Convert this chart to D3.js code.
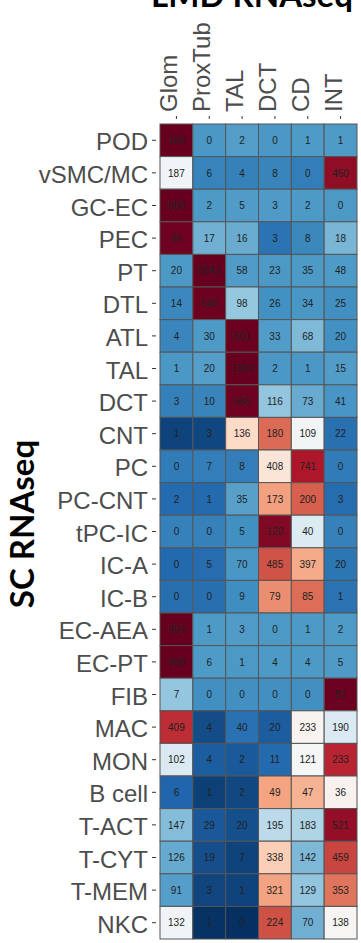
<!DOCTYPE html>
<html>
<head>
<meta charset="utf-8">
<script src="https://cdn.jsdelivr.net/npm/d3@7/dist/d3.min.js"></script>
<style>
  html, body { margin: 0; padding: 0; background: #ffffff; }
  svg { display: block; }
</style>
</head>
<body>
<svg id="chart" width="361" height="943"></svg>
<script>
// LMD compartments (columns) and single-cell clusters (rows)
const columns = ["Glom", "ProxTub", "TAL", "DCT", "CD", "INT"];
const rows = ["POD", "vSMC/MC", "GC-EC", "PEC", "PT", "DTL", "ATL", "TAL", "DCT", "CNT",
  "PC", "PC-CNT", "tPC-IC", "IC-A", "IC-B", "EC-AEA", "EC-PT", "FIB", "MAC", "MON",
  "B cell", "T-ACT", "T-CYT", "T-MEM", "NKC"];

// counts per LMD compartment, one entry per cluster (same order as rows)
const glom    = [166, 187, 888, 96, 20, 14, 4, 1, 3, 1, 0, 2, 0, 0, 0, 454, 968, 7, 409, 102, 6, 147, 126, 91, 132];
const proxTub = [0, 6, 2, 17, 6543, 546, 30, 20, 10, 3, 7, 1, 0, 5, 0, 1, 6, 0, 4, 4, 1, 29, 19, 3, 1];
const tal     = [2, 4, 5, 16, 58, 98, 501, 1304, 658, 136, 8, 35, 5, 70, 9, 3, 1, 0, 40, 2, 2, 20, 7, 1, 0];
const dct     = [0, 8, 3, 3, 23, 26, 33, 2, 116, 180, 408, 173, 120, 485, 79, 0, 4, 0, 20, 11, 49, 195, 338, 321, 224];
const cd      = [1, 0, 2, 8, 35, 34, 68, 1, 73, 109, 741, 200, 40, 397, 85, 1, 4, 0, 233, 121, 47, 183, 142, 129, 70];
const int     = [1, 450, 0, 18, 48, 25, 20, 15, 41, 22, 0, 3, 0, 20, 1, 2, 5, 51, 190, 233, 36, 521, 459, 353, 138];

const xTitle = "LMD RNAseq";
const yTitle = "SC RNAseq";

const seriesByColumn = [glom, proxTub, tal, dct, cd, int];

// long-format cells with a row-wise z-score used for the fill
const cells = [];
rows.forEach((r, i) => {
  const vals = seriesByColumn.map(s => s[i]);
  const m = d3.mean(vals);
  const sd = d3.deviation(vals) || 1;
  vals.forEach((v, j) => cells.push({ row: r, col: columns[j], value: v, z: (v - m) / sd }));
});

const svg = d3.select("#chart");

const x = d3.scaleBand().domain(columns).range([160, 357]).padding(0);
const y = d3.scaleBand().domain(rows).range([124, 939]).padding(0);

// diverging blue-white-red ramp stretched over the full z range
const rdbu = ["#053061", "#2166ac", "#4393c3", "#92c5de", "#d1e5f0", "#f7f7f7",
              "#fddbc7", "#f4a582", "#d6604d", "#b2182b", "#67001f"];
const zExt = d3.extent(cells, d => d.z);
const stops = d3.range(rdbu.length).map(k => zExt[0] + (zExt[1] - zExt[0]) * k / (rdbu.length - 1));
const color = d3.scaleLinear().domain(stops).range(rdbu).interpolate(d3.interpolateRgb).clamp(true);

// tiles
svg.append("g")
  .selectAll("rect")
  .data(cells)
  .join("rect")
  .attr("x", d => x(d.col))
  .attr("y", d => y(d.row))
  .attr("width", x.bandwidth())
  .attr("height", y.bandwidth())
  .attr("fill", d => color(d.z))
  .attr("stroke", "#555555")
  .attr("stroke-width", 1);

// count labels
svg.append("g")
  .selectAll("text")
  .data(cells)
  .join("text")
  .attr("x", d => x(d.col) + x.bandwidth() / 2)
  .attr("y", d => y(d.row) + y.bandwidth() / 2)
  .attr("dy", "0.36em")
  .attr("text-anchor", "middle")
  .style("font-family", "'Liberation Sans', Arial, sans-serif")
  .style("font-size", "10px")
  .style("fill", "#222222")
  .text(d => d.value);

// left axis: cluster names
const yAxis = svg.append("g");
yAxis.selectAll("line")
  .data(rows)
  .join("line")
  .attr("x1", 152).attr("x2", 156)
  .attr("y1", d => y(d) + y.bandwidth() / 2)
  .attr("y2", d => y(d) + y.bandwidth() / 2)
  .attr("stroke", "#333333")
  .attr("stroke-width", 1);
yAxis.selectAll("text")
  .data(rows)
  .join("text")
  .attr("x", 148)
  .attr("y", d => y(d) + y.bandwidth() / 2)
  .attr("dy", "0.42em")
  .attr("text-anchor", "end")
  .style("font-family", "'Liberation Sans', Arial, sans-serif")
  .style("font-size", "24px")
  .style("fill", "#4d4d4d")
  .text(d => d);

// top axis: compartment names, rotated
const xAxis = svg.append("g");
xAxis.selectAll("line")
  .data(columns)
  .join("line")
  .attr("x1", d => x(d) + x.bandwidth() / 2)
  .attr("x2", d => x(d) + x.bandwidth() / 2)
  .attr("y1", 116).attr("y2", 119)
  .attr("stroke", "#333333")
  .attr("stroke-width", 1);
xAxis.selectAll("text")
  .data(columns)
  .join("text")
  .attr("transform", d => `translate(${x(d) + x.bandwidth() / 2 + 1},112) rotate(-90)`)
  .attr("text-anchor", "start")
  .style("font-family", "'Liberation Sans', Arial, sans-serif")
  .style("font-size", "24px")
  .style("fill", "#4d4d4d")
  .text(d => d);

// axis titles
svg.append("text")
  .attr("x", 252)
  .attr("y", 7)
  .attr("text-anchor", "middle")
  .style("font-family", "Lato, 'Open Sans', sans-serif")
  .style("font-weight", "bold")
  .style("font-size", "33px")
  .style("fill", "#000000")
  .text(xTitle);

svg.append("text")
  .attr("transform", "translate(34,524) rotate(-90)")
  .attr("text-anchor", "middle")
  .style("font-family", "Lato, 'Open Sans', sans-serif")
  .style("font-weight", "bold")
  .style("font-size", "33px")
  .style("fill", "#000000")
  .text(yTitle);
</script>
</body>
</html>
